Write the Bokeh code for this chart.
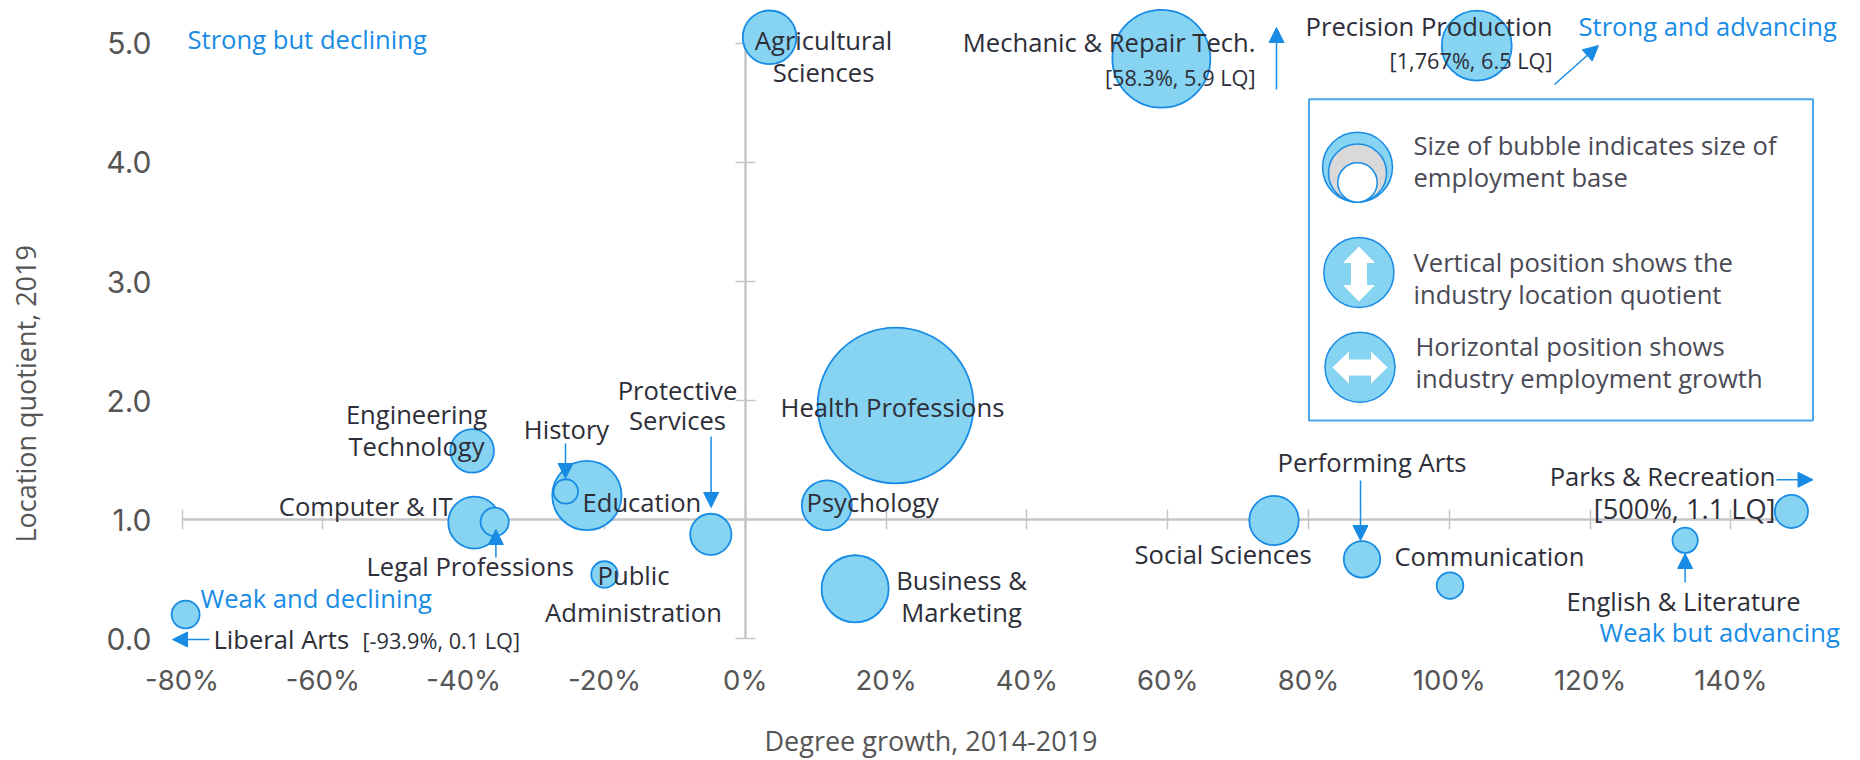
from bokeh.plotting import figure
from bokeh.models import LinearAxis, FixedTicker, PrintfTickFormatter, Range1d, Arrow, NormalHead, ColumnDataSource, Title
from bokeh.core.properties import value
from bokeh.embed import file_html
from bokeh.resources import INLINE
import numpy as np

# ---- data ----
majors = ["Agricultural Sciences", "Mechanic & Repair Tech.", "Precision Production", "Health Professions",
          "Engineering Technology", "Computer & IT", "Legal Professions", "Education", "History",
          "Protective Services", "Public Administration", "Liberal Arts", "Psychology", "Business & Marketing",
          "Social Sciences", "Performing Arts", "Communication", "English & Literature", "Parks & Recreation"]
growth = [3.45, 59.1, 103.9, 21.35, -38.8, -38.5, -35.6, -22.5, -25.5, -4.9, -20.0, -79.5, 11.58, 15.6,
          75.1, 87.6, 100.1, 133.5, 148.6]
location_quotient = [5.05, 4.87, 4.98, 1.959, 1.578, 0.976, 0.982, 1.203, 1.237, 0.877, 0.54, 0.204, 1.121, 0.42,
                     0.993, 0.667, 0.447, 0.827, 1.069]
employment_base = [2880, 9600, 4900, 24300, 1900, 2700, 800, 4800, 600, 1700, 700, 780, 2500, 4500,
                   2440, 1330, 710, 640, 1100]
x_ticks = [-80, -60, -40, -20, 0, 20, 40, 60, 80, 100, 120, 140]
y_ticks = [0, 1, 2, 3, 4, 5]

FONT = "Open Sans"
BLUE = "#188CE5"
FILL = "#87D3F2"
DARK = "#2E2E38"
GREY = "#555555"
AXIS = "#C6C6C6"

def X(px): return (px - 744.8) / 7.04
def Y(py): return (638.3 - py) / 119.1

p = figure(width=1860, height=760, output_backend="svg", toolbar_location=None,
           x_range=Range1d(X(165), X(1860)), y_range=Range1d(Y(660), Y(0)),
           min_border_left=165, min_border_right=0, min_border_top=0, min_border_bottom=100,
           x_axis_location="below", y_axis_location="left")
p.grid.visible = False
p.outline_line_color = None
p.background_fill_color = "white"

# tick-label axes at the frame edges
for ax, ticks, fmt in ((p.xaxis[0], x_ticks, "%d%%"), (p.yaxis[0], y_ticks, "%.1f")):
    ax.ticker = FixedTicker(ticks=ticks)
    ax.formatter = PrintfTickFormatter(format=fmt)
    ax.axis_line_color = None
    ax.major_tick_line_color = None
    ax.minor_tick_line_color = None
    ax.major_tick_in = 0
    ax.major_tick_out = 0
    ax.major_label_text_font = "Inter"
    ax.major_label_text_color = GREY
p.xaxis[0].major_label_text_font_size = "27.5px"
p.yaxis[0].major_label_text_font_size = "30px"
p.xaxis[0].major_label_standoff = 2
p.yaxis[0].major_label_standoff = 14

# cross-shaped axes through (0%, 1.0)
cx = LinearAxis(fixed_location=1, bounds=(-80, 150), ticker=FixedTicker(ticks=x_ticks), level="underlay")
cy = LinearAxis(fixed_location=0, bounds=(0, 5), ticker=FixedTicker(ticks=y_ticks), level="underlay")
for ax in (cx, cy):
    ax.axis_line_color = AXIS
    ax.axis_line_width = 2.5
    ax.major_tick_line_color = AXIS
    ax.major_tick_line_width = 1.5
    ax.major_tick_in = 10
    ax.major_tick_out = 10
    ax.minor_tick_line_color = None
    ax.major_label_text_color = None
    ax.major_label_text_font_size = "1px"
    ax.major_label_standoff = 0
p.add_layout(cx, "below")
p.add_layout(cy, "left")

# invisible axes that only hold the titles away from the tick labels
for gap, side, tick in ((20, "below", 0), (60, "left", 1)):
    spacer = LinearAxis(ticker=FixedTicker(ticks=[tick]), axis_line_color=None, major_tick_line_color=None,
                        minor_tick_line_color=None, major_tick_in=0, major_tick_out=gap, major_label_standoff=0,
                        major_label_text_color=None, major_label_text_font_size="1px")
    p.add_layout(spacer, side)

# axis titles
tx = Title(text="Degree growth, 2014-2019", align="left", offset=599, standoff=0,
           text_font=FONT, text_font_size="27px", text_font_style="normal", text_color=GREY)
ty = Title(text="Location quotient, 2019", align="left", offset=118, standoff=0,
           text_font=FONT, text_font_size="27px", text_font_style="normal", text_color=GREY)
p.add_layout(tx, "below")
p.add_layout(ty, "left")

# bubbles
src = ColumnDataSource(dict(x=growth, y=location_quotient, s=np.sqrt(employment_base), name=majors))
p.scatter("x", "y", size="s", source=src, fill_color=FILL, line_color=BLUE, line_width=1.8)

def txt(s, px, py, size=25.6, color=DARK, align="left", font=FONT):
    p.text([X(px)], [Y(py)], text=[s], text_font=value(font), text_font_size=f"{size}px",
           text_color=color, text_align=align, text_baseline="middle")

for s, px, py, a in [
    ("Agricultural", 823, 40, "center"), ("Sciences", 823, 72, "center"),
    ("Mechanic & Repair Tech.", 1255, 42, "right"),
    ("Precision Production", 1552, 26, "right"),
    ("Health Professions", 892, 407, "center"),
    ("Engineering", 416, 414, "center"), ("Technology", 416, 446, "center"),
    ("History", 566, 429, "center"),
    ("Protective", 677, 390, "center"), ("Services", 677, 420, "center"),
    ("Computer & IT", 452, 506, "right"),
    ("Education", 582, 502, "left"),
    ("Legal Professions", 366, 566, "left"),
    ("Public", 633, 575, "center"), ("Administration", 633, 612, "center"),
    ("Liberal Arts", 213, 639, "left"),
    ("Psychology", 806, 502, "left"),
    ("Business &", 961, 580, "center"), ("Marketing", 961, 612, "center"),
    ("Performing Arts", 1277, 462, "left"),
    ("Parks & Recreation", 1775, 476, "right"),
    ("Social Sciences", 1134, 554, "left"),
    ("Communication", 1394, 556, "left"),
    ("English & Literature", 1566, 601, "left"),
]:
    txt(s, px, py, 25.6, DARK, a)

txt("[500%, 1.1 LQ]", 1775, 508, 27.2, DARK, "right")

for s, px, py, a in [
    ("[58.3%, 5.9 LQ]", 1255, 77, "right"),
    ("[1,767%, 6.5 LQ]", 1552, 60, "right"),
    ("[-93.9%, 0.1 LQ]", 362, 640, "left"),
]:
    txt(s, px, py, 21.7, DARK, a)

for s, px, py in [
    ("Strong but declining", 187, 39), ("Strong and advancing", 1578, 26),
    ("Weak and declining", 200, 598), ("Weak but advancing", 1599, 632),
]:
    txt(s, px, py, 25.6, BLUE)

# arrows
for x0, y0, x1, y1 in [
    (1276, 89, 1276, 27), (1554, 84, 1598, 45), (565, 443, 565, 478), (710.6, 436, 710.6, 507),
    (495.4, 557, 495.4, 529), (209, 639, 172, 639), (1360, 480, 1360, 540), (1684.6, 582, 1684.6, 553),
    (1776, 479.3, 1812.5, 479.3),
]:
    p.add_layout(Arrow(x_start=X(x0), y_start=Y(y0), x_end=X(x1), y_end=Y(y1), line_color=BLUE, line_width=1.5,
                       end=NormalHead(size=15, fill_color=BLUE, line_color=BLUE, line_width=1)))

# legend panel
p.quad(left=[X(1308.5)], right=[X(1812.5)], top=[Y(98.7)], bottom=[Y(420)], fill_color=None,
       line_color="#4AA6EA", line_width=2)

def disc(px, py, r, fill, line=BLUE):
    p.scatter([X(px)], [Y(py)], size=2 * r, fill_color=fill, line_color=line, line_width=1.5)

disc(1357, 166.7, 35, FILL)
disc(1357, 172.5, 29, "#D9D9D9")
disc(1357, 182, 19.7, "#FFFFFF")
disc(1358.4, 272, 35, FILL)
disc(1359.5, 366.7, 35, FILL)

def poly(pts):
    p.patch([X(a) for a, b in pts], [Y(b) for a, b in pts], fill_color="white", line_color=None)

cxv, cyv = 1358.5, 273.5
poly([(cxv, cyv - 27.5), (cxv + 16, cyv - 11), (cxv + 8, cyv - 11), (cxv + 8, cyv + 11), (cxv + 16, cyv + 11),
      (cxv, cyv + 27.5), (cxv - 16, cyv + 11), (cxv - 8, cyv + 11), (cxv - 8, cyv - 11), (cxv - 16, cyv - 11)])
cxh, cyh = 1359.5, 367
poly([(cxh - 27.5, cyh), (cxh - 11, cyh - 16), (cxh - 11, cyh - 8), (cxh + 11, cyh - 8), (cxh + 11, cyh - 16),
      (cxh + 27.5, cyh), (cxh + 11, cyh + 16), (cxh + 11, cyh + 8), (cxh - 11, cyh + 8), (cxh - 11, cyh + 16)])

for s, px, py in [
    ("Size of bubble indicates size of", 1413, 145), ("employment base", 1413, 177),
    ("Vertical position shows the", 1413, 262), ("industry location quotient", 1413, 294),
    ("Horizontal position shows", 1415, 346), ("industry employment growth", 1415, 378),
]:
    txt(s, px, py, 25.6, "#4A4A55")

open("out.html", "w").write(file_html(p, INLINE))
